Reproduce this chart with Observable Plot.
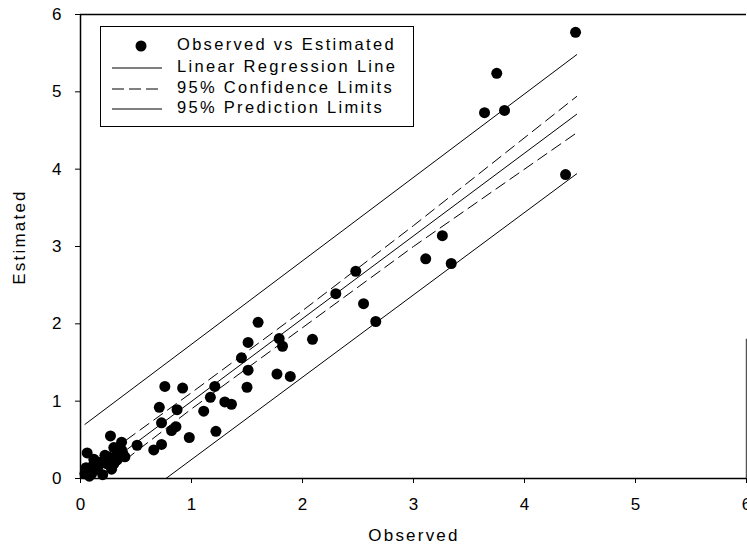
<!DOCTYPE html>
<html><head><meta charset="utf-8">
<script src="https://cdn.jsdelivr.net/npm/d3@7"></script>
<script src="https://cdn.jsdelivr.net/npm/@observablehq/plot@0.6"></script>
<style>
body{margin:0;background:#fff;}
#wrap{position:relative;width:747px;height:548px;font-family:"Liberation Sans",Arial,sans-serif;}
#legend{position:absolute;left:100px;top:26px;width:312px;height:99px;border:1.5px solid #000;background:#fff;}
#legend svg{position:absolute;left:0;top:0;}
</style></head><body><div id="wrap"><div id="legend"></div></div>
<script>
// Observed vs Estimated points
const observed  = [4.46,3.75,3.64,3.82,4.37,3.26,3.11,3.34,2.48,2.30,2.55,2.66,2.09,
  1.60,1.51,1.79,1.82,1.45,1.51,1.77,1.89,1.50,1.21,1.17,1.30,1.36,1.11,1.22,0.98,
  0.76,0.92,0.71,0.87,0.73,0.86,0.82,0.73,0.66,0.51,0.27,0.37,0.37,0.40,0.33,0.25,
  0.24,0.18,0.12,0.06,0.04,0.10,0.13,0.33,0.30,
  0.15,0.20,0.08,0.22,0.30,0.38,0.28,0.12,0.17,0.05];
const estimated = [5.77,5.24,4.73,4.76,3.93,3.14,2.84,2.78,2.68,2.39,2.26,2.03,1.80,
  2.02,1.76,1.81,1.71,1.56,1.40,1.35,1.32,1.18,1.19,1.05,0.99,0.96,0.87,0.61,0.53,
  1.19,1.17,0.92,0.89,0.72,0.67,0.62,0.44,0.37,0.43,0.55,0.47,0.37,0.28,0.24,0.28,
  0.19,0.21,0.19,0.33,0.06,0.06,0.15,0.32,0.19,
  0.12,0.05,0.03,0.30,0.40,0.33,0.12,0.25,0.18,0.14];

// Regression line and limits
const lineX      = [0.04, 4.47];
const regY       = [-0.03, 4.71];
const predUpperY = [0.70, 5.48];
const predLowerX = [0.77, 4.47];
const predLowerY = [0.00, 3.94];
const confX      = [0.04, 1.0, 2.0, 3.0, 4.47];
const confUpperY = [0.11, 1.11, 2.17, 3.27, 4.94];
const confLowerY = [-0.16, 0.90, 1.95, 3.00, 4.47];

const ticks = [0,1,2,3,4,5,6];
const xLabel = "Observed";
const yLabel = "Estimated";
const legendLabels = ["Observed vs Estimated","Linear Regression Line","95% Confidence Limits","95% Prediction Limits"];

const pts = observed.map((d,i)=>({x:d, y:estimated[i]}));
const reg = lineX.map((d,i)=>({x:d, y:regY[i]}));
const pu = lineX.map((d,i)=>({x:d, y:predUpperY[i]}));
const pl = predLowerX.map((d,i)=>({x:d, y:predLowerY[i]}));
const cu = confX.map((d,i)=>({x:d, y:confUpperY[i]}));
const cl = confX.map((d,i)=>({x:d, y:confLowerY[i]}));

const chart = Plot.plot({
  width: 747, height: 548,
  marginLeft: 80, marginRight: 1, marginTop: 14, marginBottom: 70,
  style: {fontFamily: '"Liberation Sans", Arial, sans-serif', fontSize: "17px", color: "#000", background: "#fff"},
  x: {domain: [0,6], ticks: ticks, tickSize: 5, tickPadding: 14, tickFormat: d3.format("d"), label: null},
  y: {domain: [0,6], ticks: ticks, tickSize: 5, tickPadding: 14, tickFormat: d3.format("d"), label: null},
  marks: [
    Plot.ruleY([6], {stroke: "#000", strokeWidth: 1.5}),
    Plot.ruleX([6], {y1: 0, y2: 1.8, stroke: "#555", strokeWidth: 1.5}),
    Plot.line(pu, {x: "x", y: "y", stroke: "#000", strokeWidth: 1, clip: true}),
    Plot.line(pl, {x: "x", y: "y", stroke: "#000", strokeWidth: 1, clip: true}),
    Plot.line(reg, {x: "x", y: "y", stroke: "#000", strokeWidth: 1, clip: true}),
    Plot.line(cu, {x: "x", y: "y", stroke: "#000", strokeWidth: 1, strokeDasharray: "11,6", clip: true}),
    Plot.line(cl, {x: "x", y: "y", stroke: "#000", strokeWidth: 1, strokeDasharray: "11,6", clip: true}),
    Plot.dot(pts, {x: "x", y: "y", r: 5.5, fill: "#000", stroke: "none"}),
    Plot.ruleY([0], {stroke: "#000", strokeWidth: 1.5}),
    Plot.ruleX([0], {stroke: "#000", strokeWidth: 1.5})
  ]
});
const svg = d3.select(chart);
svg.append("text").attr("x", 414).attr("y", 537).attr("text-anchor","middle").attr("dominant-baseline","middle")
  .attr("font-size", 17).attr("letter-spacing", "2.2px").attr("fill","#000").text(xLabel);
svg.append("text").attr("transform","translate(21,237) rotate(-90)").attr("text-anchor","middle").attr("dominant-baseline","middle")
  .attr("font-size", 17).attr("letter-spacing", "2.2px").attr("fill","#000").text(yLabel);
document.getElementById("wrap").insertBefore(chart, document.getElementById("legend"));

// Legend
const lg = d3.select("#legend").append("svg").attr("width", 312).attr("height", 99)
  .style("font-family", '"Liberation Sans", Arial, sans-serif');
const rowY = [19, 41, 62, 82];
legendLabels.forEach((t,i)=>{
  const g = lg.append("g").attr("transform", `translate(0,${rowY[i]})`);
  if (i === 0) g.append("circle").attr("cx", 40).attr("cy", 0).attr("r", 5.5).attr("fill","#000");
  else g.append("line").attr("x1", 11).attr("x2", 61).attr("y1", 0).attr("y2", 0).attr("stroke","#000").attr("stroke-width",1)
        .attr("stroke-dasharray", i === 2 ? "12,5" : null);
  g.append("text").attr("x", 76).attr("y", 0).attr("dominant-baseline","middle").attr("font-size", 16.5)
    .attr("letter-spacing","2.3px").attr("fill","#000").text(t);
});
</script></body></html>
